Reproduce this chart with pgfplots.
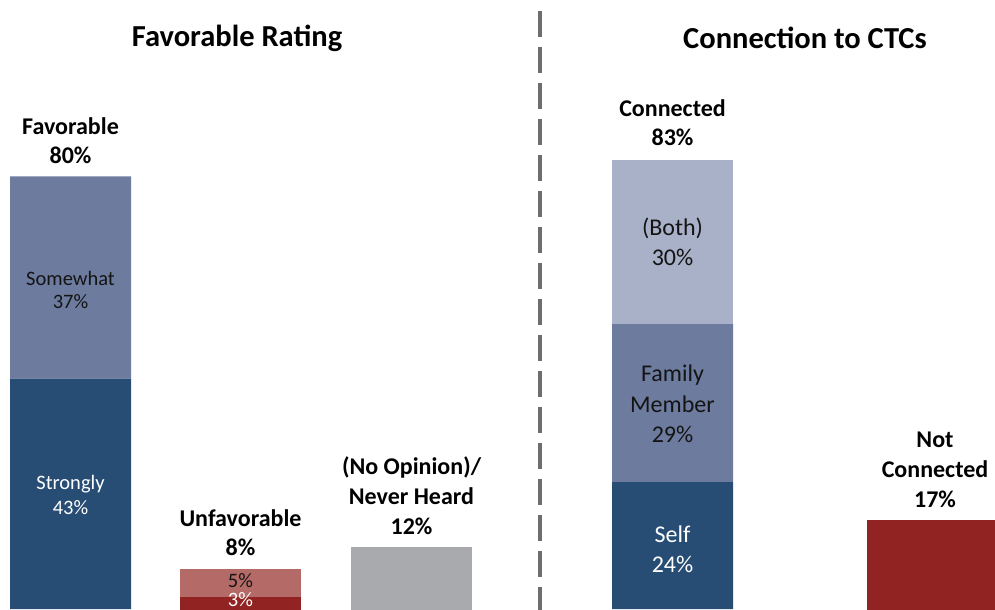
\documentclass[border=0pt]{standalone}
\usepackage{pgfplots}
\pgfplotsset{compat=1.18}
\usepackage{fontspec}
\setmainfont{Carlito}
\definecolor{dblue}{RGB}{40,77,117}
\definecolor{mblue}{RGB}{109,123,158}
\definecolor{lblue}{RGB}{169,177,200}
\definecolor{dred}{RGB}{145,36,35}
\definecolor{lred}{RGB}{180,106,103}
\definecolor{gbar}{RGB}{169,170,173}
\definecolor{divg}{RGB}{110,110,110}
\definecolor{txt}{RGB}{20,20,20}
\tikzset{tt/.style={font=\fontsize{12.2}{14}\selectfont\bfseries, text=black, inner sep=0pt},
  bl/.style={font=\fontsize{9.6}{11}\selectfont\bfseries, text=black, inner sep=0pt},
  il/.style={font=\fontsize{8.2}{10}\selectfont, inner sep=0pt},
  ir/.style={font=\fontsize{9.6}{11}\selectfont, inner sep=0pt}}
\begin{document}
\begin{tikzpicture}
\begin{axis}[
  set layers,
  scale only axis, width=398pt, height=243.6pt,
  xmin=0, xmax=995, ymin=0.73, ymax=112.3,
  axis lines=none, xtick=\empty, ytick=\empty,
  ybar stacked, bar width=121, reverse stacked plots=false,
  every axis plot/.append style={draw=none},
  clip=true,
]
% bottom segments
\addplot[fill=dblue] coordinates {(70.5,43) (240.5,0) (411.5,0) (672.5,24) (931,0)};
\addplot[fill=dred] coordinates {(70.5,0) (240.5,3) (411.5,0) (672.5,0) (931,0)};
\addplot[fill=gbar] coordinates {(70.5,0) (240.5,0) (411.5,12) (672.5,0) (931,0)};
\addplot[fill=dred, bar width=128] coordinates {(70.5,0) (240.5,0) (411.5,0) (672.5,0) (931,17)};
% middle segments
\addplot[fill=mblue] coordinates {(70.5,37) (240.5,0) (411.5,0) (672.5,29) (931,0)};
\addplot[fill=lred] coordinates {(70.5,0) (240.5,5) (411.5,0) (672.5,0) (931,0)};
% top segment
\addplot[fill=lblue] coordinates {(70.5,0) (240.5,0) (411.5,0) (672.5,30) (931,0)};

\begin{pgfonlayer}{axis foreground}
% divider
\draw[divg, line width=1.4pt, dash pattern=on 10.4pt off 4pt] (axis cs:540,110.3) -- (axis cs:540,0);
% titles
\node[tt] at (axis cs:237,105.3) {Favorable Rating};
\node[tt] at (axis cs:805,105.3) {Connection to CTCs};
% Favorable
\node[bl] at (axis cs:70.5,89.19) {Favorable};
\node[bl] at (axis cs:70.5,83.88) {80\%};
\node[il, text=txt] at (axis cs:70.5,61.36) {Somewhat};
\node[il, text=txt] at (axis cs:70.5,56.96) {37\%};
\node[il, text=white] at (axis cs:70.5,23.63) {Strongly};
\node[il, text=white] at (axis cs:70.5,19.23) {43\%};
% Unfavorable
\node[bl] at (axis cs:240.5,17.40) {Unfavorable};
\node[bl] at (axis cs:240.5,12.09) {8\%};
\node[il, text=txt] at (axis cs:240.5,5.86) {5\%};
\node[il, text=white] at (axis cs:240.5,2.38) {3\%};
% No opinion
\node[bl] at (axis cs:411.5,26.74) {(No Opinion)/};
\node[bl] at (axis cs:411.5,21.43) {Never Heard};
\node[bl] at (axis cs:411.5,15.93) {12\%};
% Connected
\node[bl] at (axis cs:672.5,92.49) {Connected};
\node[bl] at (axis cs:672.5,87.18) {83\%};
\node[ir, text=txt] at (axis cs:672.5,70.51) {(Both)};
\node[ir, text=txt] at (axis cs:672.5,65.20) {30\%};
\node[ir, text=txt] at (axis cs:672.5,43.59) {Family};
\node[ir, text=txt] at (axis cs:672.5,38.28) {Member};
\node[ir, text=txt] at (axis cs:672.5,32.78) {29\%};
\node[ir, text=white] at (axis cs:672.5,14.47) {Self};
\node[ir, text=white] at (axis cs:672.5,8.97) {24\%};
% Not connected
\node[bl] at (axis cs:935,31.68) {Not};
\node[bl] at (axis cs:935,26.37) {Connected};
\node[bl] at (axis cs:935,20.88) {17\%};
\end{pgfonlayer}
\end{axis}
\pgfresetboundingbox
\useasboundingbox (current axis.south west) rectangle (current axis.north east);
\end{tikzpicture}
\end{document}
